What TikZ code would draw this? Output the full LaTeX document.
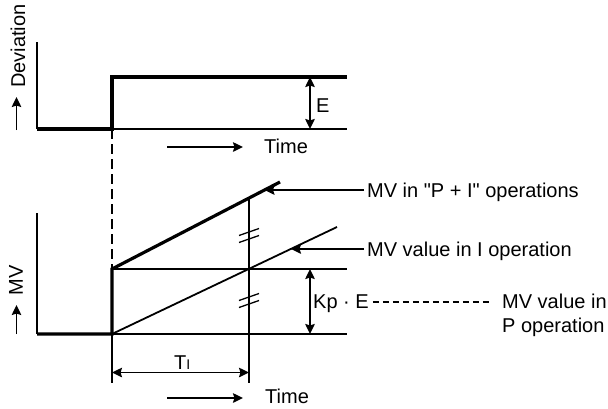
\documentclass[tikz,border=0pt]{standalone}
\usepackage{fontspec}
\newfontfamily\lsans{Liberation Sans}
\usetikzlibrary{arrows.meta,calc}
\begin{document}
\begin{tikzpicture}[x=1pt,y=-1pt,
  thickline/.style={line width=3.2pt},
  thinline/.style={line width=1.8pt},
  slash/.style={line width=1.3pt},
  arr/.style={-{Stealth[length=10pt,width=9.5pt,inset=1.5pt]}},
  darr/.style={{Stealth[length=10pt,width=9.5pt,inset=1.5pt]}-{Stealth[length=10pt,width=9.5pt,inset=1.5pt]}},
  lbl/.style={font=\lsans\fontsize{20}{24}\selectfont, inner sep=0pt},
]
\useasboundingbox (0,0) rectangle (608,408);
% ---------- top plot ----------
\coordinate (tA) at (37,42);
\coordinate (tO) at (37,129);
\coordinate (tS) at (112,129);
\coordinate (tU) at (112,77);
\coordinate (tEU) at (347,77);
\coordinate (tEB) at (347,129);
\coordinate (eT) at (310,77);
\coordinate (eB) at (310,129);
\draw[thinline] (tA) -- (tO);
\draw[thickline] (tO) -- (tS) -- (tU) -- (tEU);
\draw[thinline] (tS) -- (tEB);
\draw[thinline,darr] (eT) -- (eB);
\node[lbl,anchor=base west] (E) at (316,112) {E};
\node[lbl,rotate=90,anchor=base] (dev) at (25,46) {Deviation};
\coordinate (devA) at (16.5,130);
\coordinate (devB) at (16.5,97);
\draw[thinline,arr] (devA) -- (devB);
\coordinate (tt1) at (167,147);
\coordinate (tt2) at (243,147);
\draw[thinline,arr] (tt1) -- (tt2);
\node[lbl,anchor=base west] (time1) at (264,153) {Time};
% ---------- bottom plot ----------
\coordinate (bA) at (37,213);
\coordinate (bO) at (37,334);
\coordinate (bS) at (112,334);
\coordinate (bU) at (112,269);
\coordinate (bEU) at (347,269);
\coordinate (bEB) at (347,334);
\coordinate (bPI) at (280,182);
\coordinate (bI) at (337,227);
\coordinate (vT) at (249,198);
\coordinate (vB) at (249,383);
\coordinate (tkB) at (112,383);
\draw[line width=1.2pt,dash pattern=on 10pt off 5pt] (tS) -- (bU);
\draw[thinline] (bA) -- (bO);
\draw[thinline] (bU) -- (bEU);
\draw[thinline] (bS) -- (bEB);
\draw[thinline] (bS) -- (bI);
\draw[thickline] (bO) -- (bS) -- (bU) -- (bPI);
\draw[thinline] (vT) -- (vB);
\draw[thinline] (bS) -- (tkB);
% slash marks
\foreach \yy in {232,239,297,304}{
  \draw[slash] (239,\yy+3.5) -- (259,\yy-3.5);
}
% T_I dimension
\coordinate (ti1) at (112,372.5);
\coordinate (ti2) at (249,372.5);
\draw[thinline,darr] (ti1) -- (ti2);
\node[lbl,anchor=base west] (ti) at (174,369) {T{\fontsize{14}{16}\selectfont I}};
\node[lbl,rotate=90,anchor=base] (mv) at (23,280) {MV};
\coordinate (mvA) at (16.5,334);
\coordinate (mvB) at (16.5,305);
\draw[thinline,arr] (mvA) -- (mvB);
\coordinate (tb1) at (167,398);
\coordinate (tb2) at (243,398);
\draw[thinline,arr] (tb1) -- (tb2);
\node[lbl,anchor=base west] (time2) at (265,403) {Time};
% Kp E
\coordinate (kT) at (310,269);
\coordinate (kB) at (310,334);
\draw[thinline,darr] (kT) -- (kB);
\node[lbl,anchor=base west] (kp) at (313,308) {Kp · E};
\node[lbl,anchor=base west] (mvp1) at (502,308) {MV value in};
\node[lbl,anchor=base west] (mvp2) at (502,332) {P operation};
\draw[line width=1.2pt,dash pattern=on 6pt off 4pt] ($(kp.base east)+(4,-6)$) -- ($(mvp1.base west)+(-10,-6)$);
% leader labels
\node[lbl,anchor=base west] (pil) at (367,197) {MV in "P + I" operations};
\node[lbl,anchor=base west] (il) at (367,256) {MV value in I operation};
\coordinate (piTip) at (264.5,190);
\coordinate (iTip) at (291,249);
\coordinate (piS) at (364,190);
\coordinate (iS) at (364,249);
\draw[thinline,arr] (piS) -- (piTip);
\draw[thinline,arr] (iS) -- (iTip);
\end{tikzpicture}
\end{document}
